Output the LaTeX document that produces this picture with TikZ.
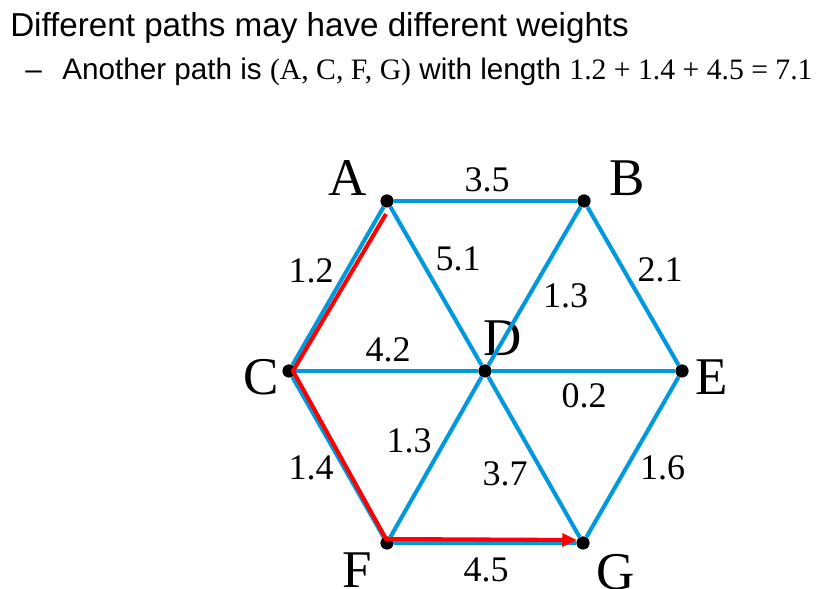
\documentclass[tikz,border=0pt]{standalone}
\usepackage{fontspec}
\setmainfont{Liberation Serif}
\newfontfamily\sansf{Liberation Sans}
\usetikzlibrary{arrows.meta, positioning}
\definecolor{linkblue}{RGB}{0,153,221}

\begin{document}
\begin{tikzpicture}[x=0.025cm, y=-0.025cm,
    vertex/.style={circle, fill=black, inner sep=0pt, minimum size=0.33cm},
    link/.style={linkblue, line width=2.9pt},
    route/.style={red, line width=2.9pt, -{Triangle[length=10.5pt, width=9pt]}},
    wlabel/.style={text=black, font=\fontsize{25.6}{27}\selectfont, inner sep=0pt},
    vlabel/.style={font=\fontsize{37.7}{39}\selectfont, inner sep=0pt}]
    \useasboundingbox (0,0) rectangle (825,589);
    \clip (0,0) rectangle (825,589);
    % heading
    \node[anchor=base west, inner sep=0pt, font=\sansf\fontsize{23.6}{25}\selectfont] (title) at (10,37) {Different paths may have different weights};
    \node[anchor=base west, inner sep=0pt, font=\sansf\fontsize{21.1}{23}\selectfont] (dash) at (25,80) {–};
    \node[anchor=base west, inner sep=0pt, font=\fontsize{21.1}{23}\selectfont] (line) at (62,80) {{\sansf Another path is }(A, C, F, G){\sansf{} with length }1.2 + 1.4 + 4.5 = 7.1};
    % vertices
    \node[vertex] (A) at (387,201) {};
    \node[vertex] (B) at (584,201) {};
    \node[vertex] (C) at (289,371) {};
    \node[vertex] (D) at (485,371) {};
    \node[vertex] (E) at (682,371) {};
    \node[vertex] (F) at (387,543) {};
    \node[vertex] (G) at (583,543) {};
    \node[vlabel] (la) at ([shift={(-39,-23)}]A.center) {A};
    \node[vlabel] (lb) at ([shift={(43,-23)}]B.center) {B};
    \node[vlabel] (lc) at ([shift={(-27.5,6)}]C.center) {C};
    \node[vlabel] (ld) at ([shift={(18,-33)}]D.center) {D};
    \node[vlabel] (le) at ([shift={(30,6)}]E.center) {E};
    \node[vlabel] (lf) at ([shift={(-30,27.5)}]F.center) {F};
    \node[vlabel] (lg) at ([shift={(33,29)}]G.center) {G};
    % weighted edges
    \draw[link] (A) -- node[wlabel, shift={(1.5,-21)}] {3.5} (B);
    \draw[link] (A) -- node[wlabel, shift={(-27,-15)}] {1.2} (C);
    \draw[link] (A) -- node[wlabel, shift={(22,-27)}] {5.1} (D);
    \draw[link] (B) -- node[wlabel, shift={(31,10)}] {1.3} (D);
    \draw[link] (B) -- node[wlabel, shift={(27,-16)}] {2.1} (E);
    \draw[link] (C) -- node[wlabel, shift={(1,-21)}] {4.2} (D);
    \draw[link] (D) -- node[wlabel, shift={(0.5,25)}] {0.2} (E);
    \draw[link] (D) -- node[wlabel, shift={(-27,-16)}] {1.3} (F);
    \draw[link] (C) -- node[wlabel, shift={(-27,11)}] {1.4} (F);
    \draw[link] (D) -- node[wlabel, shift={(-29,17)}] {3.7} (G);
    \draw[link] (E) -- node[wlabel, shift={(30,11)}] {1.6} (G);
    \draw[link] (F) -- node[wlabel, shift={(1,27)}] {4.5} (G);
    % path A, C, F, G
    \draw[route] ([shift={(-1,13)}]A.center) -- ([shift={(4,0)}]C.center) -- ([shift={(-1,-4)}]F.center) -- ([shift={(-6,-3)}]G.center);
\end{tikzpicture}
\end{document}
